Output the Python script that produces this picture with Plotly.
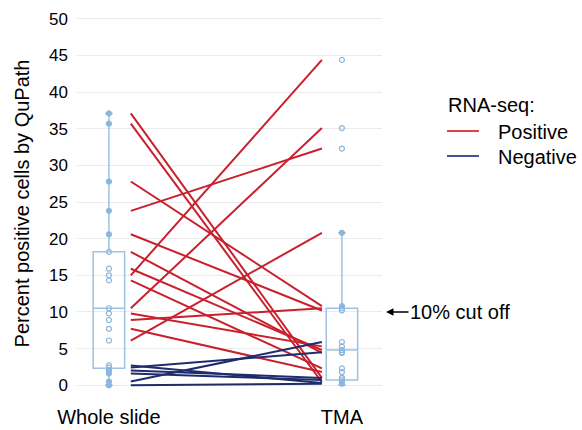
import plotly.graph_objects as go

# ---- data ----
groups = ["Whole slide", "TMA"]

whole_pos = [37.1, 35.7, 27.8, 23.8, 20.6, 18.2, 15.9, 15.0, 14.3, 10.5, 9.8, 8.9, 7.7, 6.1]
tma_pos = [1.0, 0.4, 10.8, 32.3, 10.2, 4.4, 4.8, 44.4, 2.3, 35.1, 5.3, 10.5, 1.8, 20.8]

whole_neg = [2.7, 2.4, 2.0, 1.6, 0.5, 0.0]
tma_neg = [0.3, 4.5, 1.0, 0.7, 5.9, 0.2]

# box summary statistics (as drawn)
box_lower = [0.0, 0.0]
box_q1 = [2.3, 0.7]
box_median = [10.5, 4.8]
box_q3 = [18.2, 10.5]
box_upper = [37.1, 20.8]

y_ticks = [0, 5, 10, 15, 20, 25, 30, 35, 40, 45, 50]
cutoff = 10
legend_title = "RNA-seq:"
series_names = ["Positive", "Negative"]

# ---- styling / layout constants ----
RED = "#C9202E"
NAVY = "#1E2B6C"
RED_LEG = "#D8464C"
NAVY_LEG = "#47528E"
BOXC = "#9CC2E5"
PTC = "#8DB6DD"
LINE_START, LINE_END = 0.094, 0.914
FONT = "Liberation Sans, Arial, sans-serif"

W, H = 582, 430
ML, MR, MT, MB = 77, 200, 13, 36
PW, PH = W - ML - MR, H - MT - MB


def px_x(p):  # pixel -> paper x
    return (p - ML) / PW


def px_y(p):  # pixel -> paper y
    return (H - MB - p) / PH


fig = go.Figure()

# boxes
fig.add_trace(go.Box(
    x=[0, 1], q1=box_q1, median=box_median, q3=box_q3,
    lowerfence=box_lower, upperfence=box_upper,
    width=0.135, whiskerwidth=0.25,
    line=dict(color=BOXC, width=1.5), fillcolor="rgba(255,255,255,0)",
    boxpoints=False, showlegend=False, hoverinfo="skip",
))

# sample points
for gi, vals in enumerate([whole_pos + whole_neg, tma_pos + tma_neg]):
    syms = []
    for v in vals:
        inside = box_q1[gi] <= v <= box_q3[gi]
        outlier = v > box_upper[gi]
        syms.append("circle-open" if (inside or outlier) else "circle")
    fig.add_trace(go.Scatter(
        x=[gi] * len(vals), y=vals, mode="markers",
        marker=dict(color=PTC, size=5, symbol=syms, line=dict(color=PTC, width=1.2)),
        showlegend=False, hoverinfo="skip",
    ))


def seg(a, b):
    xs, ys = [], []
    for y0, y1 in zip(a, b):
        xs += [LINE_START, LINE_END, None]
        ys += [y0, y1, None]
    return xs, ys


xs, ys = seg(whole_pos, tma_pos)
fig.add_trace(go.Scatter(x=xs, y=ys, mode="lines", name=series_names[0],
                         line=dict(color=RED, width=2), showlegend=False))
xs, ys = seg(whole_neg, tma_neg)
fig.add_trace(go.Scatter(x=xs, y=ys, mode="lines", name=series_names[1],
                         line=dict(color=NAVY, width=2), showlegend=False))

# manual legend
fig.add_annotation(xref="paper", yref="paper", x=px_x(446), y=px_y(105),
                   xanchor="left", yanchor="middle", showarrow=False,
                   text=legend_title, font=dict(size=20, color="black", family=FONT))
for i, (nm, col) in enumerate(zip(series_names, [RED_LEG, NAVY_LEG])):
    yy = 131 + 25 * i
    fig.add_shape(type="line", xref="paper", yref="paper",
                  x0=px_x(447), x1=px_x(479), y0=px_y(yy), y1=px_y(yy),
                  line=dict(color=col, width=2))
    fig.add_annotation(xref="paper", yref="paper", x=px_x(496), y=px_y(yy + 1),
                       xanchor="left", yanchor="middle", showarrow=False,
                       text=nm, font=dict(size=20, color="black", family=FONT))

fig.add_annotation(
    xref="paper", yref="y", x=px_x(386), y=cutoff,
    text="10% cut off", showarrow=True, ax=74, ay=0,
    arrowhead=2, arrowsize=1, arrowwidth=1.5, arrowcolor="black",
    font=dict(size=20, color="black", family=FONT),
)

fig.update_layout(
    width=W, height=H,
    margin=dict(l=ML, r=MR, t=MT, b=MB),
    paper_bgcolor="white", plot_bgcolor="white",
    font=dict(family=FONT, color="black"),
    showlegend=False,
    xaxis=dict(range=[-0.137, 1.172], tickvals=[0, 1], ticktext=groups,
               showgrid=False, zeroline=False, showline=False, automargin=False,
               tickfont=dict(size=20, color="black"), ticklabelstandoff=9),
    yaxis=dict(range=[-1.2, 50.8], tickvals=y_ticks, showgrid=True,
               gridcolor="#EBEBEB", gridwidth=1, zeroline=False, showline=False,
               automargin=False, ticklabelstandoff=8,
               tickfont=dict(size=17, color="black"),
               title=dict(text="Percent positive cells by QuPath",
                          font=dict(size=20, color="black"), standoff=14)),
)

fig.write_html("out.html",
               config={"displayModeBar": False},
               post_script="document.body.style.margin='0';")
